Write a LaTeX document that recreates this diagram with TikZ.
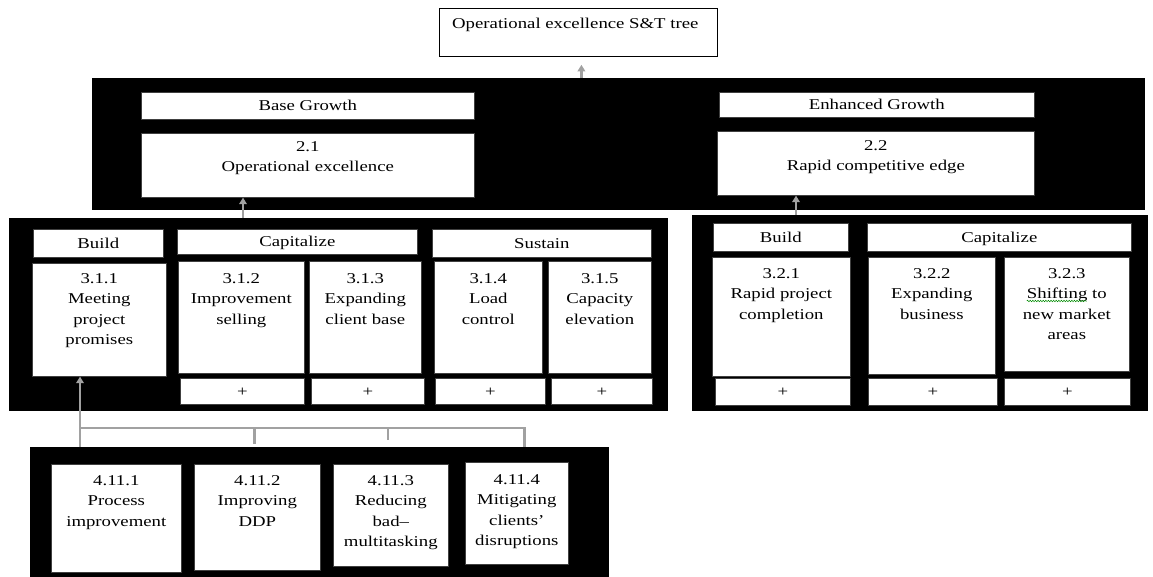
\documentclass[tikz,border=0pt]{standalone}
\usepackage{fontspec}
\setmainfont[FakeStretch=1.25]{Liberation Serif}
\usetikzlibrary{arrows.meta,decorations.pathmorphing,calc}

% box from (x1,y1) to (x2,y2), text centred
\newcommand\cellbox[6]{%
  \node[cell, minimum width={(#4)-(#2)}, minimum height={(#5)-(#3)}] (#1) at (#2,#3) {#6};}
% black panel from (x1,y1) to (x2,y2)
\newcommand\panel[5]{%
  \node[band, minimum width={(#4)-(#2)}, minimum height={(#5)-(#3)}] (#1) at (#2,#3) {};}
% multi-line caption of a box, first baseline #2 below its top edge
\newcommand\celltext[3]{%
  \node[lbl] (#1t) at ($(#1.north)+(0,#2-12)$) {\rule{0pt}{12pt}#3};}

\begin{document}
\begin{tikzpicture}[x=1pt,y=-1pt,
  txt/.style={font=\fontsize{15}{20.5}\selectfont},
  band/.style={fill=black, draw=none, inner sep=0pt, anchor=north west},
  cell/.style={txt, fill=white, draw=black!75, line width=0.6pt, inner sep=0pt,
    anchor=north west, text height=12pt, text depth=2pt},
  lbl/.style={txt, align=center, inner sep=0pt, anchor=north},
  link/.style={draw=black!37, line width=2.5pt},
  up/.style={link, -{Triangle[width=7.5pt,length=6.5pt]}}]

\useasboundingbox (0,0) rectangle (1153,576);

% title
\node[draw=black, line width=0.8pt, fill=white, inner sep=0pt, anchor=north west,
  minimum width=278pt, minimum height=48pt] (title) at (439,8) {};
\node[txt, inner sep=0pt, anchor=base west] (titlet)
  at ($(title.north west)+(13,20)$) {Operational excellence S\&T tree};

% black panels
\panel{b2}{92}{78}{1145}{210}
\panel{b3a}{9}{218}{668}{411}
\panel{b3b}{692}{215}{1148}{411}
\panel{b4}{30}{447}{609}{580}

% level 2
\cellbox{hBase}{141}{92}{474}{119}{Base Growth}
\cellbox{c21}{141}{133}{474}{197}{}
\celltext{c21}{18}{2.1\\Operational excellence}
\cellbox{hEnh}{719}{92}{1034}{117}{Enhanced Growth}
\cellbox{c22}{717}{131}{1034}{195}{}
\celltext{c22}{19}{2.2\\Rapid competitive edge}

% level 3, base growth
\cellbox{hBuildA}{33}{229}{163}{257}{Build}
\cellbox{hCapA}{177}{229}{417}{254}{Capitalize}
\cellbox{hSusA}{432}{229}{651}{257}{Sustain}
\cellbox{c311}{32}{263}{166}{376}{}
\celltext{c311}{20}{3.1.1\\Meeting\\project\\promises}
\cellbox{c312}{178}{261}{304}{373}{}
\celltext{c312}{22}{3.1.2\\Improvement\\selling}
\cellbox{c313}{309}{261}{421}{373}{}
\celltext{c313}{22}{3.1.3\\Expanding\\client base}
\cellbox{c314}{434}{261}{542}{373}{}
\celltext{c314}{22}{3.1.4\\Load\\control}
\cellbox{c315}{548}{261}{651}{373}{}
\celltext{c315}{22}{3.1.5\\Capacity\\elevation}
\cellbox{p312}{180}{378}{304}{404}{+}
\cellbox{p313}{311}{378}{424}{404}{+}
\cellbox{p314}{435}{378}{545}{404}{+}
\cellbox{p315}{551}{378}{652}{404}{+}

% level 3, enhanced growth
\cellbox{hBuildB}{713}{223}{848}{251}{Build}
\cellbox{hCapB}{867}{223}{1131}{251}{Capitalize}
\cellbox{c321}{712}{257}{850}{376}{}
\celltext{c321}{21}{3.2.1\\Rapid project\\completion}
\cellbox{c322}{868}{257}{995}{374}{}
\celltext{c322}{21}{3.2.2\\Expanding\\business}
\cellbox{c323}{1004}{257}{1129}{371}{}
\celltext{c323}{21}{3.2.3\\Shifting to\\new market\\areas}
\cellbox{p321}{715}{378}{850}{405}{+}
\cellbox{p322}{868}{378}{997}{405}{+}
\cellbox{p323}{1004}{378}{1130}{405}{+}

% spell-check mark under "Shifting"
\draw[green!55!black, line width=0.5pt, decorate,
  decoration={snake, amplitude=0.8pt, segment length=2.6pt}]
  ($(c323.north)+(-40,44)$) -- ($(c323.north)+(20,44)$);

% level 4
\cellbox{c4111}{51}{464}{181}{572}{}
\celltext{c4111}{21}{4.11.1\\Process\\improvement}
\cellbox{c4112}{194}{464}{320}{570}{}
\celltext{c4112}{21}{4.11.2\\Improving\\DDP}
\cellbox{c4113}{333}{464}{448}{566}{}
\celltext{c4113}{21}{4.11.3\\Reducing\\bad–\\multitasking}
\cellbox{c4114}{465}{462}{568}{564}{}
\celltext{c4114}{22}{4.11.4\\Mitigating\\clients’\\disruptions}

% connectors
\coordinate (aT) at ($(title.south)+(3,8)$);
\draw[up] (aT |- b2.north) -- (aT);
\coordinate (a21) at ($(c21.south west)+(102,0)$);
\draw[up] (a21 |- b3a.north) -- (a21);
\coordinate (a22) at ($(c22.south west)+(79,0)$);
\draw[up] (a22 |- b3b.north) -- (a22);
\coordinate (a311) at ($(c311.south west)+(48,0)$);
\draw[up] (a311 |- b4.north) -- (a311);

\coordinate (bus) at ($(a311 |- b4.north)+(0,-19)$);
\coordinate (s2) at ($(c4112.north)+(-3,0)$);
\coordinate (s3) at ($(c4113.north)+(-3,0)$);
\coordinate (s4) at ($(c4114.north)+(7.5,0)$);
\draw[link] (bus) -- (bus -| s4) -- (s4 |- b4.north);
\draw[link] (bus -| s2) -- ++(0,16);
\draw[link] (bus -| s3) -- ++(0,12);
\end{tikzpicture}
\end{document}
